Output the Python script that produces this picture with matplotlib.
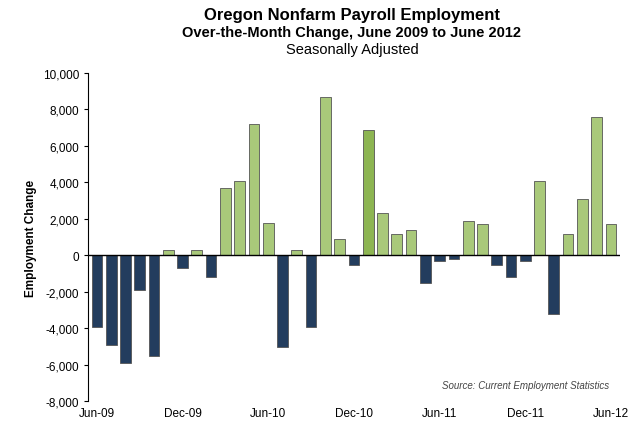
import matplotlib.pyplot as plt
import numpy as np

values = [-3900, -4900, -5900, -1900, -5500, 300, -700, 300, -1200, 3700, 4100, 7200,
          1800, -5000, 300, -3900, 8700, 900, -500, 6900, 2300, 1200, 1400, -1500,
          -300, -200, 1900, 1700, -500, -1200, -300, 4100, -3200, 1200, 3100, 7600, 1700]
tick_labels = ["Jun-09", "Dec-09", "Jun-10", "Dec-10", "Jun-11", "Dec-11", "Jun-12"]
highlight = 19  # Jan-11 bar in darker green

x = np.arange(len(values))
colors = ["#a9c97a" if v > 0 else "#233d5e" for v in values]
colors[highlight] = "#8db552"

fig = plt.figure(figsize=(6.4, 4.35), dpi=100)
ax = fig.add_axes([0.138, 0.075, 0.83, 0.755])
ax.bar(x, values, width=0.75, color=colors, edgecolor="#555555", linewidth=0.6)
ax.axhline(0, color="black", lw=1)
ax.set_xlim(-0.6, len(values) - 0.4)
ax.set_ylim(-8000, 10000)
ax.set_yticks(range(-8000, 10001, 2000))
ax.set_yticklabels([f"{v:,}" for v in range(-8000, 10001, 2000)], fontsize=8.5,
                   family="Liberation Sans")
ax.set_xticks(range(0, len(values), 6))
ax.set_xticklabels(tick_labels, fontsize=8.5, family="Liberation Sans")
ax.tick_params(axis="x", length=0, pad=4)
ax.tick_params(axis="y", length=3, direction="out")
for s in ["top", "right", "bottom"]:
    ax.spines[s].set_visible(False)
ax.set_ylabel("Employment Change", fontsize=8.5, fontweight="bold", family="Liberation Sans")
ax.text(0.98, 0.04, "Source: Current Employment Statistics", transform=ax.transAxes,
        ha="right", fontsize=7, style="italic", color="#444444", family="Liberation Sans")

fig.text(0.55, 0.955, "Oregon Nonfarm Payroll Employment", ha="center", fontsize=12,
         fontweight="bold", family="Liberation Sans")
fig.text(0.55, 0.915, "Over-the-Month Change, June 2009 to June 2012", ha="center",
         fontsize=10.5, fontweight="bold", family="Liberation Sans")
fig.text(0.55, 0.875, "Seasonally Adjusted", ha="center", fontsize=10.5, family="Liberation Sans")

fig.savefig("out.png", dpi=100)
